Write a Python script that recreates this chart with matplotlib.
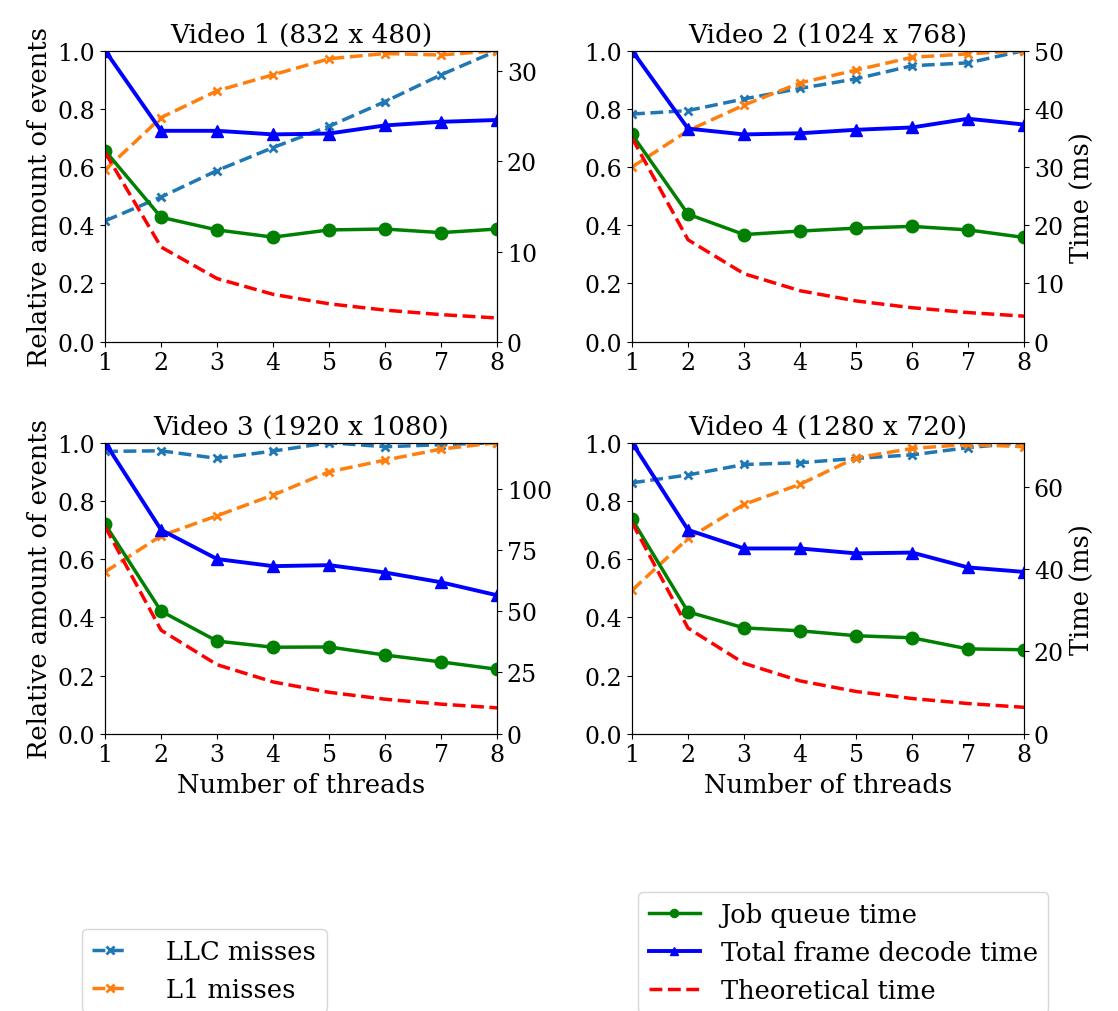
import matplotlib.pyplot as plt
from matplotlib.ticker import MultipleLocator

plt.rcParams['font.family'] = 'DejaVu Serif'
plt.rcParams['font.size'] = 18.5
plt.rcParams['xtick.labelsize'] = 17
plt.rcParams['ytick.labelsize'] = 17

threads = [1, 2, 3, 4, 5, 6, 7, 8]
titles = ['Video 1 (832 x 480)', 'Video 2 (1024 x 768)',
          'Video 3 (1920 x 1080)', 'Video 4 (1280 x 720)']

# relative amount of events (left axis)
llc_misses = [
    [0.415, 0.497, 0.588, 0.667, 0.74, 0.825, 0.917, 1.0],
    [0.782, 0.794, 0.834, 0.870, 0.903, 0.948, 0.958, 1.0],
    [0.970, 0.972, 0.946, 0.971, 1.0, 0.986, 0.993, 1.0],
    [0.862, 0.889, 0.925, 0.931, 0.946, 0.958, 0.983, 1.0],
]
l1_misses = [
    [0.59, 0.77, 0.862, 0.917, 0.972, 0.99, 0.985, 1.0],
    [0.60, 0.725, 0.813, 0.889, 0.933, 0.977, 0.989, 1.0],
    [0.556, 0.68, 0.749, 0.82, 0.90, 0.94, 0.978, 1.0],
    [0.493, 0.671, 0.788, 0.857, 0.948, 0.98, 0.994, 0.986],
]

# times in ms (right axis)
job_queue = [
    [21.2, 13.8, 12.4, 11.6, 12.4, 12.5, 12.1, 12.5],
    [35.6, 21.9, 18.4, 19.0, 19.5, 19.8, 19.2, 17.9],
    [85.5, 50.0, 37.8, 35.3, 35.4, 32.1, 29.3, 26.3],
    [52.1, 29.6, 25.7, 25.0, 23.8, 23.3, 20.6, 20.4],
]
total_decode = [
    [32.3, 23.4, 23.4, 23.0, 23.1, 24.0, 24.4, 24.6],
    [50.0, 36.6, 35.6, 35.8, 36.4, 36.8, 38.3, 37.3],
    [118.8, 83.2, 71.3, 68.4, 68.8, 65.8, 61.8, 56.5],
    [70.7, 49.5, 45.0, 45.0, 43.8, 44.0, 40.4, 39.3],
]
theoretical = [
    [21.0, 10.5, 7.0, 5.25, 4.2, 3.5, 3.0, 2.63],
    [35.0, 17.5, 11.67, 8.75, 7.0, 5.83, 5.0, 4.38],
    [84.5, 42.25, 28.17, 21.13, 16.9, 14.08, 12.07, 10.56],
    [51.3, 25.65, 17.1, 12.83, 10.26, 8.55, 7.33, 6.41],
]
time_steps = [10, 10, 25, 20]

fig, axes = plt.subplots(2, 2, figsize=(11.18, 10.12), dpi=100)
fig.subplots_adjust(left=0.094, right=0.916, top=0.949, bottom=0.274,
                    wspace=0.344, hspace=0.347)

for i, ax in enumerate(axes.flat):
    l_llc, = ax.plot(threads, llc_misses[i], '--x', color='#1f77b4', lw=2.5, ms=6, mew=2,
                     label='LLC misses')
    l_l1, = ax.plot(threads, l1_misses[i], '--x', color='#ff7f0e', lw=2.5, ms=6, mew=2,
                    label='L1 misses')
    ax.set_xlim(1, 8)
    ax.set_ylim(0, 1)
    ax.set_xticks(threads)
    ax.set_title(titles[i], fontsize=19)

    ax2 = ax.twinx()
    l_job, = ax2.plot(threads, job_queue[i], '-o', color='green', lw=2.5, ms=9,
                      label='Job queue time')
    l_tot, = ax2.plot(threads, total_decode[i], '-^', color='blue', lw=2.8, ms=9,
                      label='Total frame decode time')
    l_th, = ax2.plot(threads, theoretical[i], '--', color='red', lw=2.5,
                     label='Theoretical time')
    ax2.set_ylim(0, max(total_decode[i]))
    ax2.yaxis.set_major_locator(MultipleLocator(time_steps[i]))

    if i % 2 == 0:
        ax.set_ylabel('Relative amount of events')
    else:
        ax2.set_ylabel('Time (ms)')
    if i >= 2:
        ax.set_xlabel('Number of threads')

fig.legend(handles=[l_llc, l_l1], loc='upper left', bbox_to_anchor=(0.073, 0.081),
           borderaxespad=0, handlelength=1.4, handletextpad=1.5, markerscale=0.9)
fig.legend(handles=[l_job, l_tot, l_th], loc='upper left', bbox_to_anchor=(0.571, 0.118),
           borderaxespad=0, markerscale=0.65)

fig.savefig('out.png', dpi=100)
